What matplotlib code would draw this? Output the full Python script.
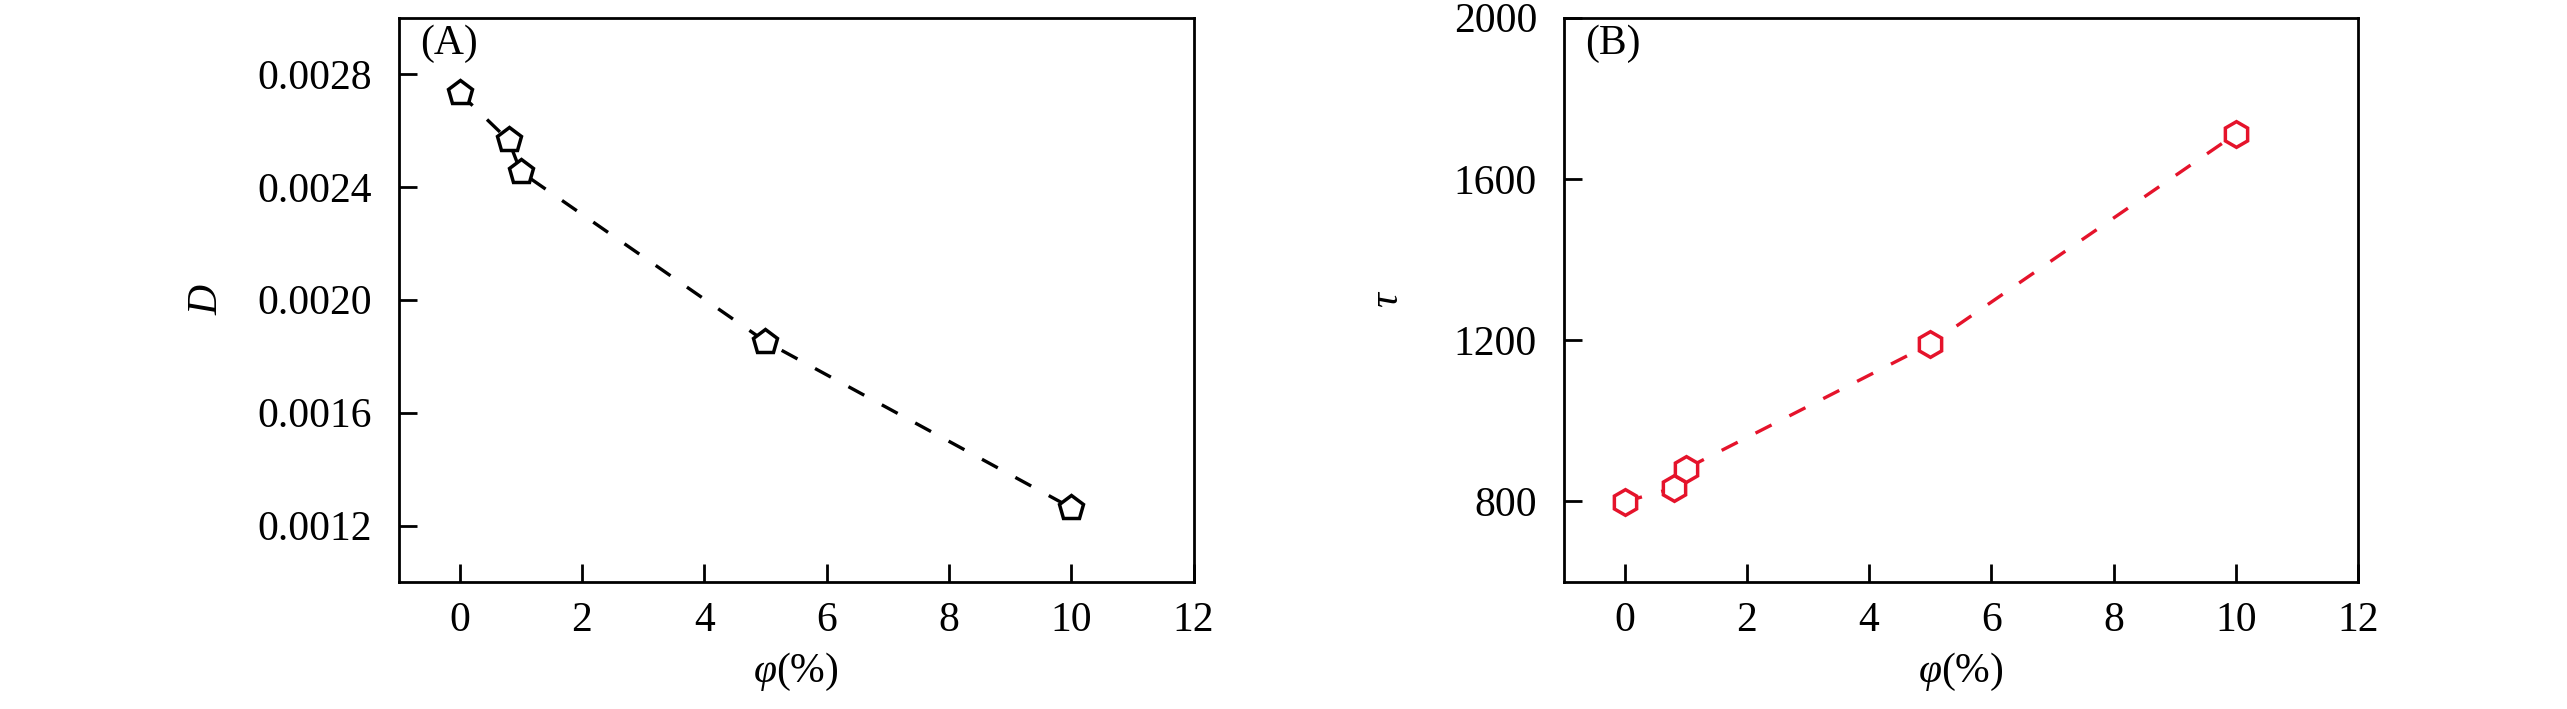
import matplotlib
matplotlib.use("Agg")
import matplotlib.pyplot as plt
from matplotlib.ticker import FixedLocator, FormatStrFormatter

plt.rcParams['font.family'] = ['Liberation Serif', 'DejaVu Serif']
plt.rcParams['mathtext.fontset'] = 'custom'
plt.rcParams['mathtext.rm'] = 'Liberation Serif'
plt.rcParams['mathtext.it'] = 'Liberation Serif:italic'

# Data
phi = [0, 0.8, 1, 5, 10]
D_values = [0.002732, 0.002565, 0.002453, 0.001852, 0.001263]
tau_values = [799, 833, 881, 1190, 1711]

x_ticks = [0, 2, 4, 6, 8, 10, 12]
D_ticks = [0.0012, 0.0016, 0.0020, 0.0024, 0.0028]
tau_ticks = [800, 1200, 1600, 2000]

FS = 30
W, H = 2567, 709
fig = plt.figure(figsize=(W / 100, H / 100), dpi=100)

axA = fig.add_axes([398.5 / W, 1 - 582 / H, (1193.5 - 398.5) / W, (582 - 17.5) / H])
axB = fig.add_axes([1563.5 / W, 1 - 582 / H, (2358 - 1563.5) / W, (582 - 17.5) / H])

red = '#e5132b'
dash = (0, (5.4, 6.0))

axA.plot(phi, D_values, linestyle=dash, color='black', lw=2.4,
         marker='p', ms=18.5, mfc='white', mec='black', mew=2.5, zorder=3)
axB.plot(phi, tau_values, linestyle=dash, color=red, lw=2.4,
         marker='h', ms=18.5, mfc='white', mec=red, mew=2.5, zorder=3)

for ax, yt, ylim, lab in [
        (axA, D_ticks, (0.0010, 0.0030), '(A)'),
        (axB, tau_ticks, (600, 2000), '(B)')]:
    ax.set_xlim(-1, 12)
    ax.set_ylim(*ylim)
    ax.xaxis.set_major_locator(FixedLocator(x_ticks))
    ax.yaxis.set_major_locator(FixedLocator(yt))
    ax.tick_params(direction='in', length=13, width=2, labelsize=FS,
                   top=False, right=False)
    ax.tick_params(axis='y', pad=19)
    ax.tick_params(axis='x', pad=14)
    for s in ax.spines.values():
        s.set_linewidth(2)
    ax.set_xlabel(r'$φ$(%)', fontsize=FS, labelpad=8)
    ax.text(0.027, 0.988, lab, transform=ax.transAxes, fontsize=FS,
            ha='left', va='top')

axA.yaxis.set_major_formatter(FormatStrFormatter('%.4f'))
axA.set_ylabel('D', fontsize=FS, fontstyle='italic', labelpad=22)
axB.set_ylabel('τ', fontsize=FS, fontstyle='italic', labelpad=34)

fig.savefig('out.png', dpi=100, facecolor='white')
